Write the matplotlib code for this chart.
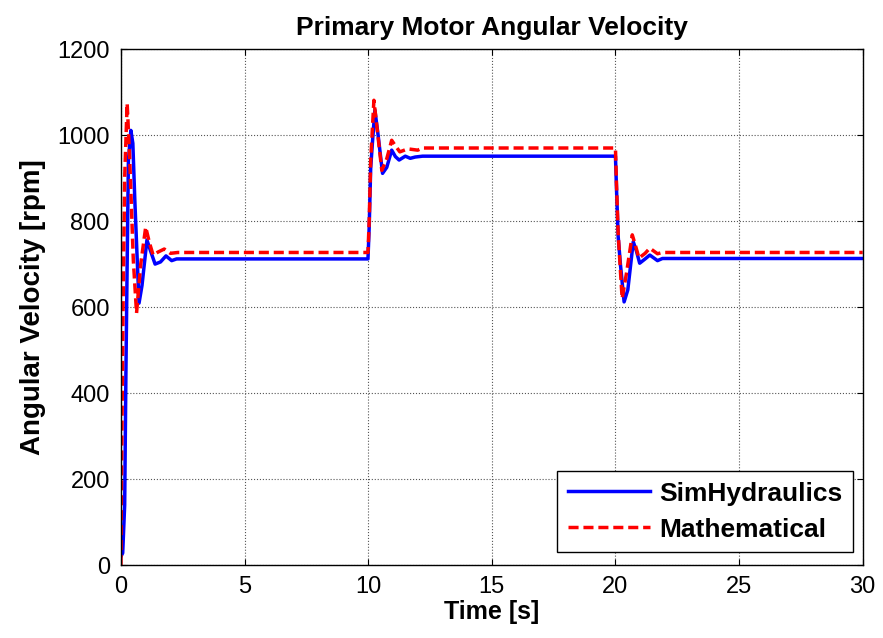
import numpy as np
import matplotlib
matplotlib.use("Agg")
import matplotlib.pyplot as plt

plt.rcParams['font.family'] = ['Liberation Sans', 'DejaVu Sans']

# SimHydraulics model (blue, solid)
t_sim = [0, 0.07, 0.15, 0.2, 0.25, 0.3, 0.4, 0.48, 0.56, 0.65, 0.73, 0.85, 1.05,
         1.2, 1.38, 1.6, 1.82, 2.05, 2.25, 9.99, 10.04, 10.1, 10.18, 10.27, 10.4,
         10.58, 10.75, 10.95, 11.1, 11.25, 11.5, 11.7, 11.9, 12.2, 20.0, 20.04,
         20.11, 20.2, 20.35, 20.5, 20.72, 20.85, 20.98, 21.2, 21.39, 21.7, 21.9, 30]
w_sim = [20, 28, 140, 447, 700, 940, 1011, 981, 849, 720, 609, 650, 756,
         730, 700, 705, 719, 708, 712, 712, 786, 923, 990, 1058, 1000,
         911, 925, 965, 950, 942, 951, 946, 949, 951, 951, 880,
         764, 700, 612, 640, 752, 730, 702, 712, 721, 708, 713, 713]

# Mathematical model (red, dashed)
t_mat = [0, 0.02, 0.08, 0.15, 0.25, 0.35, 0.5, 0.63, 0.8, 1.0, 1.15, 1.3, 1.5,
         1.75, 2.0, 2.3, 9.99, 10.04, 10.1, 10.23, 10.35, 10.55, 10.75, 10.95,
         11.1, 11.28, 11.6, 12.0, 12.2, 20.0, 20.04, 20.11, 20.27, 20.45, 20.68,
         20.8, 20.95, 21.2, 21.39, 21.7, 21.9, 30]
w_mat = [0, 198, 577, 902, 1074, 950, 709, 586, 700, 786, 750, 721, 728,
         735, 725, 727, 727, 800, 940, 1081, 1020, 918, 945, 988,
         975, 961, 968, 965, 970, 970, 890, 770, 620, 680, 768,
         745, 714, 725, 737, 724, 727, 727]

fig = plt.figure(figsize=(8.83, 6.38), dpi=100)
ax = fig.add_axes([0.137, 0.1144, 0.840, 0.8086])

ax.plot(t_sim, w_sim, color='#0000ff', lw=2.5, label='SimHydraulics')
ax.plot(t_mat, w_mat, color='#ff0000', lw=2.5, ls=(0, (2.9, 1.4)), label='Mathematical')

ax.set_xlim(0, 30)
ax.set_ylim(0, 1200)
ax.set_xticks(np.arange(0, 31, 5))
ax.set_yticks(np.arange(0, 1201, 200))
ax.grid(True, color='#555555', ls=':', lw=0.8)
ax.tick_params(direction='in', top=True, right=True, labelsize=17, length=4, pad=8)
for s in ax.spines.values():
    s.set_linewidth(1.0)

ax.set_title('Primary Motor Angular Velocity', fontsize=19, fontweight='bold', pad=10)
ax.set_xlabel('Time [s]', fontsize=18, fontweight='bold', labelpad=1)
ax.set_ylabel('Angular Velocity [rpm]', fontsize=20, fontweight='bold', labelpad=8)

leg = ax.legend(loc='lower right', prop={'weight': 'bold', 'size': 19},
                fancybox=False, edgecolor='black', framealpha=1,
                handlelength=3.1, handletextpad=0.35, borderpad=0.4,
                labelspacing=0.45, borderaxespad=0,
                bbox_to_anchor=(0.9865, 0.025))
leg.get_frame().set_linewidth(1.0)

fig.savefig('out.png', dpi=100)
